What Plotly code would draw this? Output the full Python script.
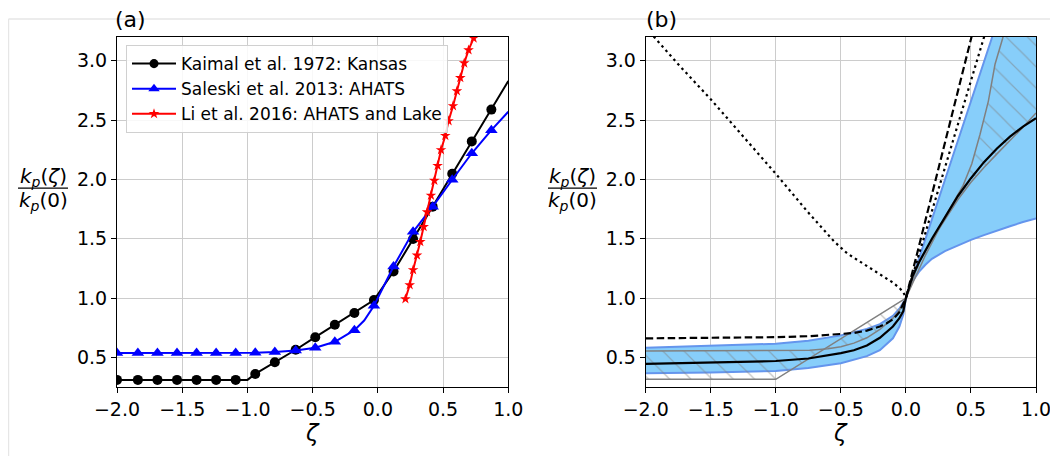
import plotly.graph_objects as go

# ---------------- Panel (a) data ----------------
kaimal_x = [-2.0, -1.84, -1.69, -1.54, -1.39, -1.24, -1.09, -1.0, -0.94, -0.79, -0.63,
            -0.48, -0.33, -0.18, -0.03, 0.12, 0.27, 0.42, 0.57, 0.72, 0.87, 1.0]
kaimal_y = [0.31, 0.31, 0.31, 0.31, 0.31, 0.31, 0.31, 0.31, 0.36, 0.458, 0.564,
            0.67, 0.774, 0.874, 0.983, 1.223, 1.497, 1.77, 2.047, 2.32, 2.588, 2.83]
kaimal_marked = [1, 1, 1, 1, 1, 1, 1, 0, 1, 1, 1, 1, 1, 1, 1, 1, 1, 1, 1, 1, 1, 0]

saleski_x = [-2.0, -1.84, -1.69, -1.54, -1.39, -1.24, -1.09, -0.94, -0.79, -0.63, -0.48,
             -0.33, -0.18, -0.105, -0.03, 0.12, 0.27, 0.42, 0.57, 0.72, 0.87, 1.0]
saleski_y = [0.536, 0.536, 0.536, 0.536, 0.536, 0.536, 0.536, 0.538, 0.545, 0.558, 0.581,
             0.631, 0.729, 0.81, 0.935, 1.265, 1.558, 1.77, 1.997, 2.22, 2.415, 2.57]
saleski_marked = [1, 1, 1, 1, 1, 1, 1, 1, 1, 1, 1, 1, 1, 0, 1, 1, 1, 1, 1, 1, 1, 0]

li_x = [0.211, 0.244, 0.27, 0.3, 0.325, 0.351, 0.377, 0.407, 0.433, 0.458, 0.484,
        0.517, 0.542, 0.576, 0.606, 0.632, 0.662, 0.695, 0.734, 0.76]
li_y = [0.992, 1.11, 1.237, 1.36, 1.474, 1.6, 1.725, 1.865, 1.99, 2.116, 2.248,
        2.368, 2.493, 2.619, 2.745, 2.856, 2.98, 3.09, 3.19, 3.30]

legend_names = ["Kaimal et al. 1972: Kansas", "Saleski et al. 2013: AHATS",
                "Li et al. 2016: AHATS and Lake"]

# ---------------- Panel (b) data ----------------
band_up_x = [-2.0, -1.5, -1.0, -0.75, -0.5, -0.3, -0.2, -0.1, -0.05, 0.0, 0.33, 0.66, 1.0]
band_up_y = [0.58, 0.595, 0.615, 0.64, 0.685, 0.74, 0.78, 0.85, 0.91, 1.0, 2.1, 3.19, 4.3]
band_lo_x = [-2.0, -1.5, -1.0, -0.75, -0.5, -0.3, -0.2, -0.1, -0.05, -0.02, 0.0, 0.02, 0.05,
             0.1, 0.15, 0.2, 0.3, 0.4, 0.5, 0.6, 0.7, 0.8, 0.9, 1.0]
band_lo_y = [0.366, 0.372, 0.385, 0.41, 0.45, 0.51, 0.56, 0.66, 0.76, 0.86, 1.0, 1.07, 1.14,
             1.22, 1.28, 1.33, 1.395, 1.445, 1.49, 1.53, 1.57, 1.605, 1.64, 1.67]

kai_gray_x = [-2.0, -1.0, 0.0]
kai_gray_y = [0.315, 0.315, 1.0]
sal_gray_x = [-2.0, -1.0, -0.74, -0.6, -0.5, -0.4, -0.3, -0.2, -0.1, -0.05, 0.0]
sal_gray_y = [0.553, 0.555, 0.56, 0.572, 0.59, 0.62, 0.665, 0.735, 0.83, 0.895, 1.0]

lo_gray_x = [0.0, 0.1, 0.2, 0.3, 0.4, 0.5, 0.6, 0.7, 0.8, 0.9, 1.0]
lo_gray_y = [1.0, 1.3, 1.49, 1.66, 1.83, 1.975, 2.1, 2.215, 2.325, 2.44, 2.56]
li_gray_x = [0.0, 0.15, 0.3, 0.44, 0.506, 0.57, 0.634, 0.685, 0.744, 1.0]
li_gray_y = [1.0, 1.36, 1.68, 1.95, 2.13, 2.38, 2.66, 2.97, 3.19, 4.3]

solid_x = [-2.0, -1.5, -1.0, -0.75, -0.5, -0.4, -0.3, -0.2, -0.15, -0.1, -0.05, -0.02, 0.0,
           0.05, 0.1, 0.2, 0.3, 0.4, 0.5, 0.6, 0.7, 0.8, 0.9, 1.0]
solid_y = [0.445, 0.455, 0.469, 0.49, 0.535, 0.56, 0.6, 0.665, 0.71, 0.76, 0.83, 0.89, 1.0,
           1.18, 1.30, 1.50, 1.68, 1.86, 2.01, 2.145, 2.26, 2.36, 2.445, 2.515]

dashed_x = [-2.0, -1.5, -1.0, -0.75, -0.5, -0.4, -0.3, -0.2, -0.15, -0.1, -0.05, 0.0, 0.25, 0.55]
dashed_y = [0.66, 0.664, 0.67, 0.678, 0.693, 0.705, 0.725, 0.76, 0.785, 0.82, 0.88, 1.0, 2.09, 3.4]

dotted_x = [-2.0, -1.75, -1.5, -1.25, -1.0, -0.75, -0.6, -0.55, -0.45, -0.4, -0.3, -0.2, -0.1,
            -0.05, -0.02, 0.0, 0.3, 0.62]
dotted_y = [3.28, 2.97, 2.675, 2.36, 2.047, 1.72, 1.535, 1.475, 1.375, 1.34, 1.265, 1.195, 1.13,
            1.085, 1.05, 1.0, 2.1, 3.27]

x_ticks = [-2.0, -1.5, -1.0, -0.5, 0.0, 0.5, 1.0]
y_ticks = [0.5, 1.0, 1.5, 2.0, 2.5, 3.0]

# ---------------- Figure ----------------
FONT = "DejaVu Sans"
fig = go.Figure()

fig.add_trace(go.Scatter(x=kaimal_x, y=kaimal_y, mode="lines+markers", name=legend_names[0],
                         line=dict(color="black", width=2),
                         marker=dict(symbol="circle", color="black", opacity=1,
                                     line=dict(width=0),
                                     size=[10 if m else 0 for m in kaimal_marked]),
                         xaxis="x", yaxis="y"))
fig.add_trace(go.Scatter(x=saleski_x, y=saleski_y, mode="lines+markers", name=legend_names[1],
                         line=dict(color="blue", width=2),
                         marker=dict(symbol="triangle-up", color="blue", opacity=1,
                                     line=dict(width=0),
                                     size=[11 if m else 0 for m in saleski_marked]),
                         xaxis="x", yaxis="y"))
fig.add_trace(go.Scatter(x=li_x, y=li_y, mode="lines+markers", name=legend_names[2],
                         line=dict(color="red", width=2),
                         marker=dict(symbol="star", color="red", size=8, opacity=1,
                                     line=dict(width=0)),
                         xaxis="x", yaxis="y"))

# panel (b): blue band
fig.add_trace(go.Scatter(x=band_lo_x, y=band_lo_y, mode="lines",
                         line=dict(color="#6495ED", width=2), showlegend=False,
                         xaxis="x2", yaxis="y2"))
fig.add_trace(go.Scatter(x=band_up_x, y=band_up_y, mode="lines", fill="tonexty",
                         fillcolor="#87CEFA",
                         line=dict(color="#6495ED", width=2), showlegend=False,
                         xaxis="x2", yaxis="y2"))

# hatched envelopes
hatch = dict(shape="\\", fgcolor="#808080", bgcolor="rgba(0,0,0,0)", size=15, solidity=0.08)
fig.add_trace(go.Scatter(x=kai_gray_x, y=kai_gray_y, mode="lines",
                         line=dict(color="#808080", width=1.5), showlegend=False,
                         xaxis="x2", yaxis="y2"))
fig.add_trace(go.Scatter(x=sal_gray_x, y=sal_gray_y, mode="lines", fill="tonexty",
                         fillcolor="rgba(0,0,0,0)", fillpattern=hatch,
                         line=dict(color="#808080", width=1.5), showlegend=False,
                         xaxis="x2", yaxis="y2"))
fig.add_trace(go.Scatter(x=lo_gray_x, y=lo_gray_y, mode="lines",
                         line=dict(color="#808080", width=1.5), showlegend=False,
                         xaxis="x2", yaxis="y2"))
fig.add_trace(go.Scatter(x=li_gray_x, y=li_gray_y, mode="lines", fill="tonexty",
                         fillcolor="rgba(0,0,0,0)", fillpattern=hatch,
                         line=dict(color="#808080", width=1.5), showlegend=False,
                         xaxis="x2", yaxis="y2"))

fig.add_trace(go.Scatter(x=dotted_x, y=dotted_y, mode="lines",
                         line=dict(color="black", width=2.2, dash="2.5px,3.5px"), showlegend=False,
                         xaxis="x2", yaxis="y2"))
fig.add_trace(go.Scatter(x=dashed_x, y=dashed_y, mode="lines",
                         line=dict(color="black", width=2.2, dash="7.5px,3.5px"), showlegend=False,
                         xaxis="x2", yaxis="y2"))
fig.add_trace(go.Scatter(x=solid_x, y=solid_y, mode="lines",
                         line=dict(color="black", width=2.2),
                         showlegend=False, xaxis="x2", yaxis="y2"))

axis_common = dict(showline=True, mirror=True, linecolor="black", linewidth=1,
                   ticks="outside", ticklen=5, tickcolor="black", tickwidth=1,
                   showgrid=True, gridcolor="#cccccc", gridwidth=1, zeroline=False,
                   tickfont=dict(family=FONT, size=19, color="black"), tickformat=".1f")

fig.update_layout(
    width=1058, height=456,
    margin=dict(l=109, r=30, t=29, b=77),
    paper_bgcolor="white", plot_bgcolor="white",
    font=dict(family=FONT, color="black"),
    xaxis=dict(domain=[0, 0.4258], range=[-2, 1], tickvals=x_ticks, anchor="y", **axis_common),
    yaxis=dict(range=[0.25, 3.2], tickvals=y_ticks, anchor="x", **axis_common),
    xaxis2=dict(domain=[0.5753, 1], range=[-2, 1], tickvals=x_ticks, anchor="y2", **axis_common),
    yaxis2=dict(range=[0.25, 3.2], tickvals=y_ticks, anchor="x2", **axis_common),
    legend=dict(x=0.0098, y=0.977, xanchor="left", yanchor="top", traceorder="normal",
                bgcolor="rgba(255,255,255,0.85)", bordercolor="#d0d0d0", borderwidth=1,
                font=dict(family=FONT, size=17, color="black"), itemwidth=44),
)

ann = []
for cx, x0, x1 in [(-0.0805, -0.1077, -0.0533), (0.4957, 0.469, 0.5223)]:
    ann.append(dict(x=cx, y=0.601, xref="paper", yref="paper", showarrow=False,
                    text="<i>k</i><sub><i>p</i></sub>(<i>ζ</i>)",
                    font=dict(family=FONT, size=20, color="black"),
                    xanchor="center", yanchor="middle"))
    ann.append(dict(x=cx, y=0.532, xref="paper", yref="paper", showarrow=False,
                    text="<i>k</i><sub><i>p</i></sub>(0)",
                    font=dict(family=FONT, size=20, color="black"),
                    xanchor="center", yanchor="middle"))
    fig.add_shape(type="line", xref="paper", yref="paper", x0=x0, x1=x1, y0=0.5682, y1=0.5682,
                  line=dict(color="black", width=1.2))
for cx in [0.2127, 0.7877]:
    ann.append(dict(x=cx, y=-0.0875, xref="paper", yref="paper", showarrow=False,
                    text="<i>ζ</i>", font=dict(family=FONT, size=23, color="black"),
                    xanchor="center", yanchor="top"))
for cx, t in [(0.0152, "(a)"), (0.5930, "(b)")]:
    ann.append(dict(x=cx, y=1.0486, xref="paper", yref="paper", showarrow=False,
                    text=t, font=dict(family=FONT, size=22, color="black"),
                    xanchor="center", yanchor="middle"))
fig.update_layout(annotations=ann)

# faint figure frame
fig.add_shape(type="line", xref="paper", yref="paper", x0=-0.1181, x1=1.03, y0=1.0515, y1=1.0515,
              line=dict(color="#e6e6e6", width=1.5), layer="below")
fig.add_shape(type="line", xref="paper", yref="paper", x0=-0.1181, x1=-0.1181, y0=1.0515, y1=-0.25,
              line=dict(color="#e6e6e6", width=1.5), layer="below")

fig.write_html("out.html")
